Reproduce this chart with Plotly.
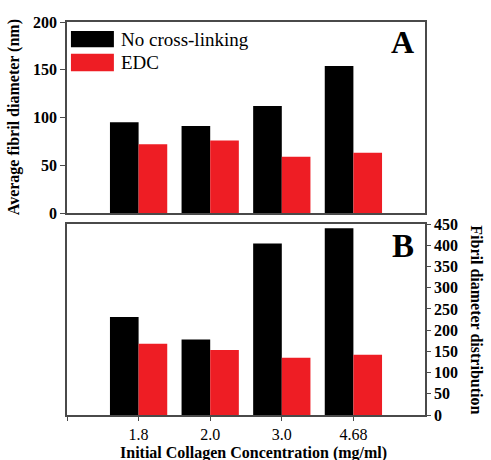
import plotly.graph_objects as go

categories = ["1.8", "2.0", "3.0", "4.68"]
avg_no_xlink = [95, 91, 112, 154]
avg_edc = [72, 76, 59, 63]
dist_no_xlink = [231, 178, 404, 440]
dist_edc = [168, 153, 135, 142]
series_names = ["No cross-linking", "EDC"]
top_ticks = [0, 50, 100, 150, 200]
bottom_ticks = [0, 50, 100, 150, 200, 250, 300, 350, 400, 450]

BLACK = "#000000"
RED = "#ee1d24"
AX = "#4a4a4a"
FONT = "Liberation Serif, Times New Roman, serif"

xpos = list(range(len(categories)))

fig = go.Figure()
fig.add_trace(go.Bar(x=xpos, y=avg_no_xlink, marker=dict(color=BLACK, line=dict(width=0)),
                     xaxis="x2", yaxis="y2", name=series_names[0], offsetgroup="a"))
fig.add_trace(go.Bar(x=xpos, y=avg_edc, marker=dict(color=RED, line=dict(width=0)),
                     xaxis="x2", yaxis="y2", name=series_names[1], offsetgroup="b"))
fig.add_trace(go.Bar(x=xpos, y=dist_no_xlink, marker=dict(color=BLACK, line=dict(width=0)),
                     xaxis="x", yaxis="y", name=series_names[0], offsetgroup="a"))
fig.add_trace(go.Bar(x=xpos, y=dist_edc, marker=dict(color=RED, line=dict(width=0)),
                     xaxis="x", yaxis="y", name=series_names[1], offsetgroup="b"))

bold = dict(family=FONT, size=16, color="black", weight="bold")

fig.update_layout(
    width=491, height=460,
    margin=dict(l=67, r=66, t=22, b=45),
    paper_bgcolor="white", plot_bgcolor="white",
    showlegend=False,
    barmode="group", bargap=0.2, bargroupgap=0,
    font=dict(family=FONT, color="black"),
    xaxis=dict(domain=[0, 1], anchor="y", range=[-1, 4],
               tickvals=[-1] + xpos, ticktext=[""] + categories,
               ticks="outside", ticklen=4, tickcolor=AX, tickwidth=1.2,
               showline=True, linecolor=AX, linewidth=1.5, mirror=True,
               showgrid=False, zeroline=False,
               tickfont=dict(family=FONT, size=16, color="black")),
    yaxis=dict(domain=[0, 0.486], anchor="x", side="right", range=[0, 450],
               tickvals=bottom_ticks, ticks="outside", ticklen=4, tickcolor=AX, tickwidth=1.2,
               showline=True, linecolor=AX, linewidth=1.5, mirror=True,
               showgrid=False, zeroline=False, tickfont=bold),
    xaxis2=dict(domain=[0, 1], anchor="y2", range=[-1, 4],
                showticklabels=False, ticks="",
                showline=True, linecolor=AX, linewidth=1.5, mirror=True,
                showgrid=False, zeroline=False),
    yaxis2=dict(domain=[0.514, 1], anchor="x2", range=[0, 200],
                tickvals=top_ticks, ticks="outside", ticklen=5, tickcolor=AX, tickwidth=1.2,
                showline=True, linecolor=AX, linewidth=1.5, mirror=True,
                showgrid=False, zeroline=False, tickfont=bold),
)

annotations = [
    dict(text="Average fibril diameter (nm)", x=-0.146, y=0.757, xref="paper", yref="paper",
         textangle=-90, showarrow=False, font=bold, xanchor="center", yanchor="middle"),
    dict(text="Fibril diameter distribution", x=1.143, y=0.243, xref="paper", yref="paper",
         textangle=90, showarrow=False, font=bold, xanchor="center", yanchor="middle"),
    dict(text="Initial Collagen Concentration (mg/ml)", x=0.52, y=-0.097, xref="paper", yref="paper",
         showarrow=False, font=bold, xanchor="center", yanchor="middle"),
    dict(text="A", x=0.975, y=0.95, xref="paper", yref="paper", showarrow=False,
         font=dict(family=FONT, size=32, color="black", weight="bold"), xanchor="right", yanchor="middle"),
    dict(text="B", x=0.975, y=0.43, xref="paper", yref="paper", showarrow=False,
         font=dict(family=FONT, size=33, color="black", weight="bold"), xanchor="right", yanchor="middle"),
    dict(text=series_names[0], x=0.145, y=0.9565, xref="paper", yref="paper", showarrow=False,
         font=dict(family=FONT, size=19, color="black"), xanchor="left", yanchor="middle"),
    dict(text=series_names[1], x=0.145, y=0.897, xref="paper", yref="paper", showarrow=False,
         font=dict(family=FONT, size=19, color="black"), xanchor="left", yanchor="middle"),
]
fig.update_layout(annotations=annotations)

shapes = [
    dict(type="rect", xref="paper", yref="paper", x0=0.011, x1=0.131, y0=0.936, y1=0.977,
         fillcolor=BLACK, line=dict(width=0)),
    dict(type="rect", xref="paper", yref="paper", x0=0.011, x1=0.131, y0=0.875, y1=0.919,
         fillcolor=RED, line=dict(width=0)),
]
fig.update_layout(shapes=shapes)

fig.write_html("out.html", config={"displayModeBar": False},
               post_script="document.body.style.margin='0';document.body.style.overflow='hidden';")
